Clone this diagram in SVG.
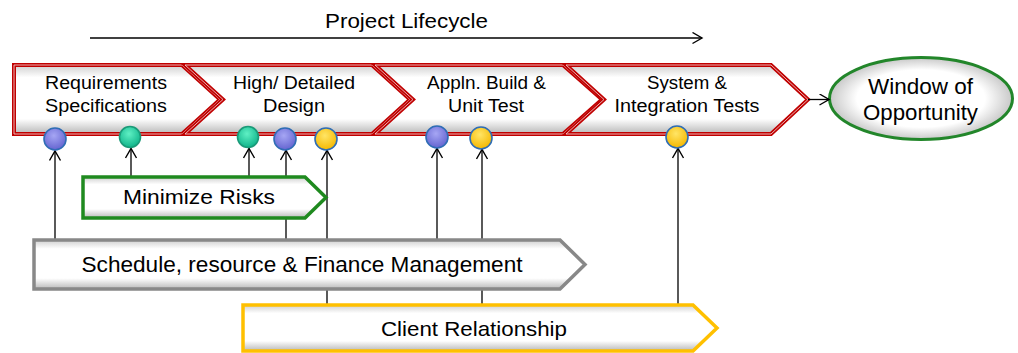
<svg xmlns="http://www.w3.org/2000/svg" width="1018" height="353" viewBox="0 0 1018 353">
<defs>
<linearGradient id="bevel" x1="0" y1="0" x2="0" y2="1">
<stop offset="0" stop-color="#cfcfcf"/>
<stop offset="0.18" stop-color="#ffffff"/>
<stop offset="0.78" stop-color="#ffffff"/>
<stop offset="1" stop-color="#b8b8b8"/>
</linearGradient>
<radialGradient id="ellG" cx="0.5" cy="0.5" r="0.5">
<stop offset="0.7" stop-color="#ffffff"/>
<stop offset="1" stop-color="#c8c8c8"/>
</radialGradient>
<radialGradient id="blueG" cx="0.45" cy="0.35" r="0.65">
<stop offset="0" stop-color="#a6a6f4"/>
<stop offset="1" stop-color="#6464d0"/>
</radialGradient>
<radialGradient id="tealG" cx="0.45" cy="0.35" r="0.65">
<stop offset="0" stop-color="#5ff0c4"/>
<stop offset="1" stop-color="#0fb48a"/>
</radialGradient>
<radialGradient id="yelG" cx="0.45" cy="0.35" r="0.65">
<stop offset="0" stop-color="#ffe566"/>
<stop offset="1" stop-color="#f5b800"/>
</radialGradient>
<marker id="arr" markerUnits="userSpaceOnUse" markerWidth="13" markerHeight="13" refX="10" refY="6" orient="auto">
<path d="M0.5,0.5 L10,6 L0.5,11.5" fill="none" stroke="#000" stroke-width="1.4"/>
</marker>
</defs>
<style>
.t{font-family:"Liberation Sans",Arial,sans-serif;fill:#000;text-anchor:middle}
.ch{fill:url(#bevel);stroke:#c00000;stroke-width:4;stroke-linejoin:miter}
.chi{fill:none;stroke:#f4dede;stroke-width:0.8;stroke-linejoin:miter}
.band{fill:url(#bevel);stroke-width:3.5;stroke-linejoin:miter}
.c{stroke:#000;stroke-width:1.3;fill:none}
.dot{stroke-width:1.6}
</style>
<g id="title">
<text class="t" x="406.5" y="27.5" font-size="21" textLength="163" lengthAdjust="spacingAndGlyphs">Project Lifecycle</text>
</g>
<g id="requirements">
<path class="ch" d="M14,65 L182,65 L220,99.5 L182,134 L14,134 Z"/>
<path class="chi" d="M14,65 L182,65 L220,99.5 L182,134 L14,134 Z"/>
<text class="t" x="106" y="89" font-size="18" textLength="122" lengthAdjust="spacingAndGlyphs">Requirements</text>
<text class="t" x="106" y="112" font-size="18" textLength="122" lengthAdjust="spacingAndGlyphs">Specifications</text>
</g>
<g id="design">
<path class="ch" d="M185,65 L372,65 L410,99.5 L372,134 L185,134 L223,99.5 Z"/>
<path class="chi" d="M185,65 L372,65 L410,99.5 L372,134 L185,134 L223,99.5 Z"/>
<text class="t" x="294" y="89" font-size="18" textLength="122" lengthAdjust="spacingAndGlyphs">High/ Detailed</text>
<text class="t" x="294" y="112" font-size="18" textLength="62" lengthAdjust="spacingAndGlyphs">Design</text>
</g>
<g id="build">
<path class="ch" d="M375,65 L563,65 L602,99.5 L563,134 L375,134 L413,99.5 Z"/>
<path class="chi" d="M375,65 L563,65 L602,99.5 L563,134 L375,134 L413,99.5 Z"/>
<text class="t" x="486.5" y="89" font-size="18" textLength="119" lengthAdjust="spacingAndGlyphs">Appln. Build &amp;</text>
<text class="t" x="486" y="112" font-size="18" textLength="76" lengthAdjust="spacingAndGlyphs">Unit Test</text>
</g>
<g id="system">
<path class="ch" d="M566,65 L771,65 L808,99.5 L771,134 L566,134 L604,99.5 Z"/>
<path class="chi" d="M566,65 L771,65 L808,99.5 L771,134 L566,134 L604,99.5 Z"/>
<text class="t" x="687" y="89" font-size="18" textLength="80" lengthAdjust="spacingAndGlyphs">System &amp;</text>
<text class="t" x="687" y="112" font-size="18" textLength="145" lengthAdjust="spacingAndGlyphs">Integration Tests</text>
</g>
<g id="window">
<ellipse cx="921" cy="98.5" rx="91.5" ry="41" fill="url(#ellG)" stroke="#22862a" stroke-width="3"/>
<text class="t" x="920.5" y="93.5" font-size="22" textLength="105" lengthAdjust="spacingAndGlyphs">Window of</text>
<text class="t" x="920.5" y="120" font-size="22" textLength="115" lengthAdjust="spacingAndGlyphs">Opportunity</text>
</g>
<g id="connectors">
<line class="c" x1="90" y1="38" x2="702" y2="38" marker-end="url(#arr)"/>
<line class="c" x1="808" y1="99.5" x2="829" y2="99.5" marker-end="url(#arr)"/>
<line class="c" x1="55" y1="240" x2="55" y2="151" marker-end="url(#arr)"/>
<line class="c" x1="131" y1="177" x2="131" y2="148.5" marker-end="url(#arr)"/>
<line class="c" x1="249" y1="177" x2="249" y2="148.5" marker-end="url(#arr)"/>
<line class="c" x1="286" y1="240" x2="286" y2="150.5" marker-end="url(#arr)"/>
<line class="c" x1="327" y1="305" x2="327" y2="150.5" marker-end="url(#arr)"/>
<line class="c" x1="437" y1="240" x2="437" y2="148.5" marker-end="url(#arr)"/>
<line class="c" x1="482" y1="305" x2="482" y2="149.5" marker-end="url(#arr)"/>
<line class="c" x1="678" y1="305" x2="678" y2="148.5" marker-end="url(#arr)"/>
</g>
<g id="minimize-risks">
<path class="band" stroke="#1f8a1f" d="M83,177 L305,177 L326,197.5 L305,218 L83,218 Z"/>
<text class="t" x="199" y="204" font-size="21" textLength="152" lengthAdjust="spacingAndGlyphs">Minimize Risks</text>
</g>
<g id="schedule">
<path class="band" stroke="#888888" stroke-width="4" d="M34,240 L560,240 L585,264.5 L560,289 L34,289 Z"/>
<text class="t" x="302" y="272" font-size="21.5" textLength="441" lengthAdjust="spacingAndGlyphs">Schedule, resource &amp; Finance Management</text>
</g>
<g id="client-relationship">
<path class="band" stroke="#ffc000" d="M243,305 L693,305 L717,328 L693,351 L243,351 Z"/>
<text class="t" x="474" y="336" font-size="21" textLength="186" lengthAdjust="spacingAndGlyphs">Client Relationship</text>
</g>
<g id="milestones">
<circle class="dot" cx="55" cy="139" r="11" fill="url(#blueG)" stroke="#2f6db5"/>
<circle class="dot" cx="130" cy="137" r="10.5" fill="url(#tealG)" stroke="#1a9a78"/>
<circle class="dot" cx="248" cy="137" r="10.5" fill="url(#tealG)" stroke="#1a9a78"/>
<circle class="dot" cx="285" cy="139" r="11" fill="url(#blueG)" stroke="#2f6db5"/>
<circle class="dot" cx="326" cy="139" r="11" fill="url(#yelG)" stroke="#2f6db5"/>
<circle class="dot" cx="437" cy="137" r="11" fill="url(#blueG)" stroke="#2f6db5"/>
<circle class="dot" cx="481" cy="138" r="11" fill="url(#yelG)" stroke="#2f6db5"/>
<circle class="dot" cx="677" cy="137" r="11" fill="url(#yelG)" stroke="#2f6db5"/>
</g>
</svg>
